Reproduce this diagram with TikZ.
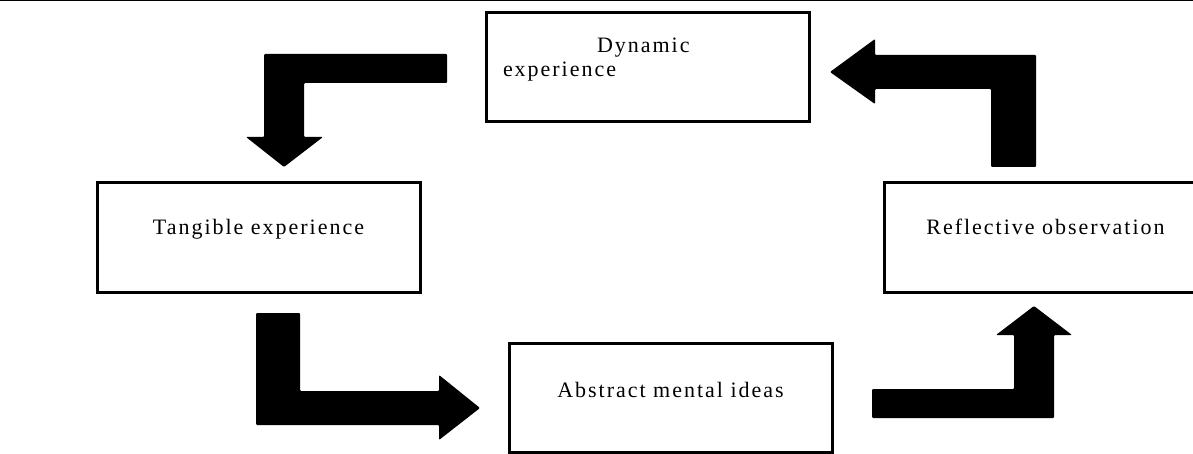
\documentclass[tikz,border=0pt]{standalone}
\usepackage{fontspec}
\setmainfont{Liberation Serif}[LetterSpace=9]
\usetikzlibrary{positioning}

\tikzset{
  stage/.style={draw, line width=3pt, minimum width=323pt, minimum height=109pt,
    inner xsep=0pt, inner ysep=0pt, font=\fontsize{22}{24}\selectfont},
  bigarrow/.style={fill=black, rounded corners=1pt}
}

\begin{document}
\begin{tikzpicture}[x=1pt, y=-1pt]
  \useasboundingbox (0,0) rectangle (1193,454);
  \draw[line width=1.5pt] (0,0.75) -- (1193,0.75);

  \node[stage, text height=40pt, text depth=69pt, text width=289pt, inner xsep=17pt, align=left]
    (dyn) at (647.5,67.5) {\hspace*{94pt}Dynamic\\experience};
  \node[stage, text height=52pt, text depth=57pt] (tang) at (258.5,237.5) {Tangible experience};
  \node[stage, text height=52pt, text depth=57pt] (refl) [right=461pt of tang] {Reflective observation};
  \node[stage, text height=54pt, text depth=55pt] (abst) at (670.5,397.5) {Abstract mental ideas};

  \fill[bigarrow] (447,54) -- (264,54) -- (264,137) -- (246,137) -- (284,167)
    -- (323,137) -- (304,137) -- (304,83) -- (447,83) -- cycle;
  \fill[bigarrow] (256,313) -- (300,313) -- (300,391) -- (439,391) -- (439,375)
    -- (480,408) -- (439,440) -- (439,425) -- (256,425) -- cycle;
  \fill[bigarrow] (872,389) -- (1014,389) -- (1014,335) -- (996,335) -- (1034,306)
    -- (1072,335) -- (1054,335) -- (1054,418) -- (872,418) -- cycle;
  \fill[bigarrow] (991,167) -- (991,89) -- (875,89) -- (875,104) -- (830,72)
    -- (875,39) -- (875,55) -- (1036,55) -- (1036,167) -- cycle;
\end{tikzpicture}
\end{document}
